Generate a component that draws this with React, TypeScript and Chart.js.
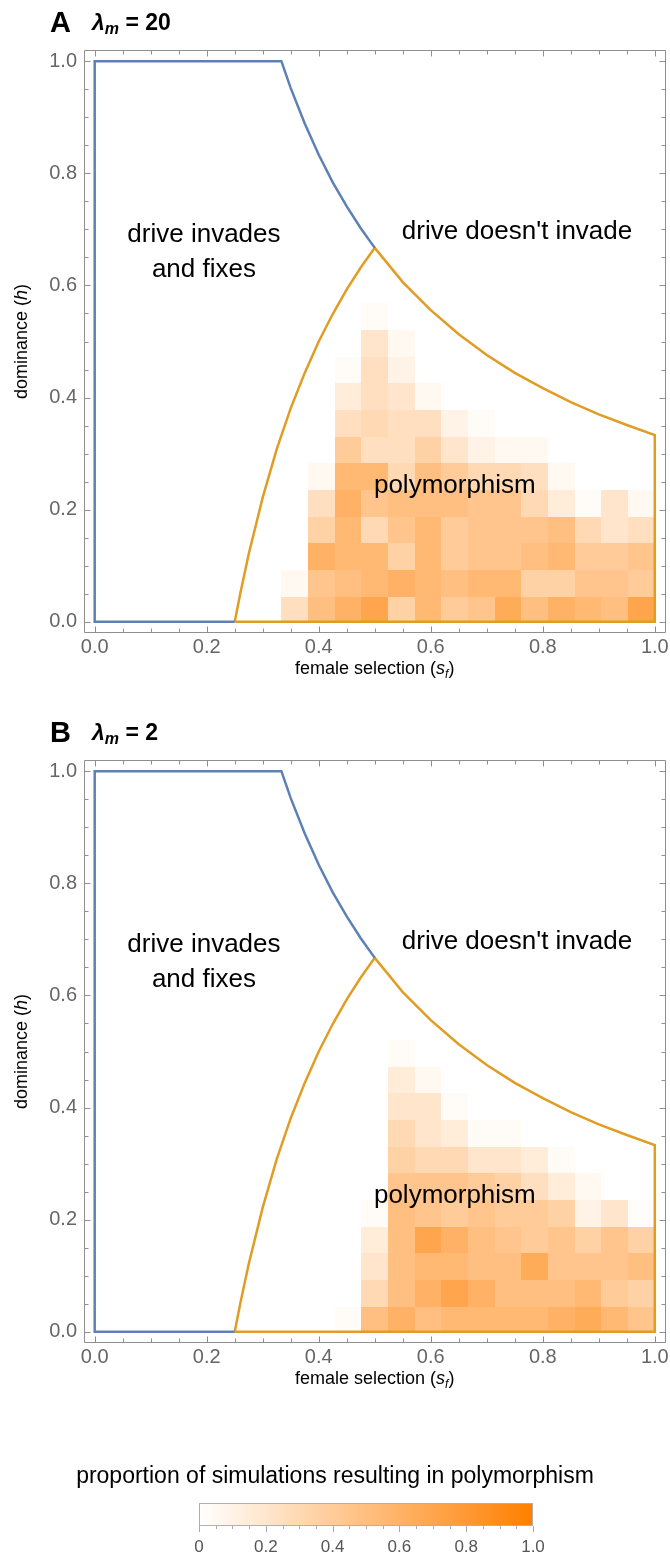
import React, { useEffect, useRef } from "react";
import { Chart, registerables } from "chart.js";
Chart.register(...registerables);

const FONT = "'Liberation Sans', Arial, Helvetica, sans-serif";

// axis ticks
const MAJOR_TICKS = [0, 0.2, 0.4, 0.6, 0.8, 1.0];
const MINOR_TICKS = [0, 0.05, 0.1, 0.15, 0.2, 0.25, 0.3, 0.35, 0.4, 0.45, 0.5, 0.55, 0.6, 0.65, 0.7, 0.75, 0.8, 0.85, 0.9, 0.95, 1.0];
const COLORBAR_TICK_LABELS = ["0", "0.2", "0.4", "0.6", "0.8", "1.0"];

// heat-map grid: 21 x 21 cells over [0,1]
const GRID_N = 21;

// proportion of simulations resulting in polymorphism, lambda_m = 20
// rows: dominance index 0.., columns: female selection index 0..20
const POLY_A: number[][] = [
  [0, 0, 0, 0, 0, 0, 0, 0.25, 0.5, 0.6, 0.7, 0.35, 0.55, 0.4, 0.45, 0.65, 0.5, 0.6, 0.55, 0.5, 0.7],
  [0, 0, 0, 0, 0, 0, 0, 0.05, 0.45, 0.5, 0.55, 0.6, 0.55, 0.5, 0.55, 0.55, 0.35, 0.35, 0.45, 0.45, 0.4],
  [0, 0, 0, 0, 0, 0, 0, 0, 0.6, 0.55, 0.55, 0.35, 0.55, 0.4, 0.45, 0.45, 0.5, 0.55, 0.4, 0.4, 0.45],
  [0, 0, 0, 0, 0, 0, 0, 0, 0.35, 0.55, 0.3, 0.45, 0.55, 0.4, 0.45, 0.45, 0.45, 0.5, 0.3, 0.2, 0.25],
  [0, 0, 0, 0, 0, 0, 0, 0, 0.25, 0.6, 0.45, 0.5, 0.5, 0.5, 0.45, 0.45, 0.3, 0.15, 0.03, 0.2, 0.05],
  [0, 0, 0, 0, 0, 0, 0, 0, 0.05, 0.55, 0.55, 0.3, 0.5, 0.4, 0.3, 0.3, 0.25, 0.05, 0, 0, 0],
  [0, 0, 0, 0, 0, 0, 0, 0, 0, 0.4, 0.25, 0.25, 0.35, 0.2, 0.1, 0.05, 0.05, 0, 0, 0, 0],
  [0, 0, 0, 0, 0, 0, 0, 0, 0, 0.25, 0.3, 0.25, 0.25, 0.1, 0.03, 0, 0, 0, 0, 0, 0],
  [0, 0, 0, 0, 0, 0, 0, 0, 0, 0.15, 0.25, 0.2, 0.05, 0, 0, 0, 0, 0, 0, 0, 0],
  [0, 0, 0, 0, 0, 0, 0, 0, 0, 0.03, 0.25, 0.1, 0, 0, 0, 0, 0, 0, 0, 0, 0],
  [0, 0, 0, 0, 0, 0, 0, 0, 0, 0, 0.2, 0.05, 0, 0, 0, 0, 0, 0, 0, 0, 0],
  [0, 0, 0, 0, 0, 0, 0, 0, 0, 0, 0.03, 0, 0, 0, 0, 0, 0, 0, 0, 0, 0],
];

// lambda_m = 2
const POLY_B: number[][] = [
  [0, 0, 0, 0, 0, 0, 0, 0, 0, 0.03, 0.5, 0.6, 0.5, 0.55, 0.55, 0.55, 0.55, 0.6, 0.65, 0.55, 0.45],
  [0, 0, 0, 0, 0, 0, 0, 0, 0, 0, 0.3, 0.5, 0.6, 0.7, 0.6, 0.5, 0.5, 0.5, 0.55, 0.4, 0.35],
  [0, 0, 0, 0, 0, 0, 0, 0, 0, 0, 0.2, 0.5, 0.55, 0.55, 0.5, 0.5, 0.65, 0.45, 0.45, 0.45, 0.5],
  [0, 0, 0, 0, 0, 0, 0, 0, 0, 0, 0.15, 0.5, 0.7, 0.6, 0.5, 0.45, 0.4, 0.45, 0.35, 0.45, 0.35],
  [0, 0, 0, 0, 0, 0, 0, 0, 0, 0, 0.03, 0.5, 0.45, 0.4, 0.45, 0.4, 0.4, 0.35, 0.1, 0.2, 0.02],
  [0, 0, 0, 0, 0, 0, 0, 0, 0, 0, 0, 0.45, 0.45, 0.45, 0.4, 0.35, 0.25, 0.15, 0.05, 0, 0],
  [0, 0, 0, 0, 0, 0, 0, 0, 0, 0, 0, 0.35, 0.3, 0.3, 0.2, 0.2, 0.15, 0.03, 0, 0, 0],
  [0, 0, 0, 0, 0, 0, 0, 0, 0, 0, 0, 0.3, 0.2, 0.15, 0.03, 0.03, 0, 0, 0, 0, 0],
  [0, 0, 0, 0, 0, 0, 0, 0, 0, 0, 0, 0.2, 0.2, 0.03, 0, 0, 0, 0, 0, 0, 0],
  [0, 0, 0, 0, 0, 0, 0, 0, 0, 0, 0, 0.15, 0.05, 0, 0, 0, 0, 0, 0, 0, 0],
  [0, 0, 0, 0, 0, 0, 0, 0, 0, 0, 0, 0.03, 0, 0, 0, 0, 0, 0, 0, 0, 0],
];

// boundary: drive invades and fixes (blue)
const FIX_S = [0.25, 0, 0, 0.3333, 0.35, 0.375, 0.4, 0.425, 0.45, 0.475, 0.5];
const FIX_H = [0, 0, 1, 1, 0.952, 0.889, 0.833, 0.784, 0.741, 0.702, 0.667];

// boundary: polymorphism region (orange)
const POLY_S = [0.25, 0.26, 0.275, 0.3, 0.325, 0.35, 0.375, 0.4, 0.425, 0.45, 0.475, 0.5, 0.55, 0.6, 0.65, 0.7, 0.75, 0.8, 0.85, 0.9, 0.95, 1.0, 1.0, 0.25];
const POLY_H = [0, 0.051, 0.121, 0.222, 0.308, 0.381, 0.444, 0.5, 0.549, 0.593, 0.632, 0.667, 0.606, 0.556, 0.513, 0.476, 0.444, 0.417, 0.392, 0.37, 0.351, 0.333, 0, 0];

const REGION_TEXT = ["drive invades", "and fixes", "drive doesn't invade", "polymorphism"];
const REGION_S = [0.195, 0.195, 0.754, 0.643];
const REGION_H = [0.69, 0.627, 0.695, 0.243];

const BLUE = "#5E81B5";
const ORANGE = "#E19C24";
const FRAME = "#8f8f8f";
const TICK_TEXT = "#666666";

function cellColor(v: number) {
  const g = Math.round(255 - 128 * v);
  const b = Math.round(255 - 255 * v);
  return `rgb(255,${g},${b})`;
}

type Seg = { t: string; f: string; dy?: number };
function drawRich(ctx: CanvasRenderingContext2D, segs: Seg[], x: number, y: number) {
  let total = 0;
  for (const s of segs) { ctx.font = s.f; total += ctx.measureText(s.t).width; }
  let cx = x - total / 2;
  ctx.textAlign = "left";
  ctx.textBaseline = "alphabetic";
  for (const s of segs) {
    ctx.font = s.f;
    ctx.fillText(s.t, cx, y + (s.dy || 0));
    cx += ctx.measureText(s.t).width;
  }
}

function heatPlugin(grid: number[][]) {
  return {
    id: "heat",
    beforeDatasetsDraw(chart: any) {
      const { ctx, scales } = chart;
      const xs = scales.x, ys = scales.y;
      const shift = -0.003;
      ctx.save();
      grid.forEach((row, j) => {
        row.forEach((v, i) => {
          if (!v) return;
          const x0 = xs.getPixelForValue(i / GRID_N);
          const x1 = xs.getPixelForValue((i + 1) / GRID_N);
          const y0 = ys.getPixelForValue(j / GRID_N + shift);
          const y1 = ys.getPixelForValue((j + 1) / GRID_N + shift);
          ctx.fillStyle = cellColor(v);
          ctx.fillRect(Math.round(x0), Math.round(y1), Math.round(x1) - Math.round(x0), Math.round(y0) - Math.round(y1));
        });
      });
      ctx.restore();
    },
  };
}

const framePlugin = {
  id: "frame",
  afterDatasetsDraw(chart: any) {
    const { ctx, chartArea: a, scales } = chart;
    const xs = scales.x, ys = scales.y;
    const L = Math.round(a.left) + 0.5, R = Math.round(a.right) - 0.5;
    const T = Math.round(a.top) + 0.5, B = Math.round(a.bottom) - 0.5;
    ctx.save();
    ctx.strokeStyle = FRAME;
    ctx.lineWidth = 1;
    ctx.beginPath();
    ctx.rect(L, T, R - L, B - T);
    MINOR_TICKS.forEach((v, i) => {
      const len = i % 4 === 0 ? 6 : 4;
      const px = Math.round(xs.getPixelForValue(v)) + 0.5;
      ctx.moveTo(px, B); ctx.lineTo(px, B - len);
      ctx.moveTo(px, T); ctx.lineTo(px, T + len);
      const py = Math.round(ys.getPixelForValue(v)) + 0.5;
      ctx.moveTo(L, py); ctx.lineTo(L + len, py);
      ctx.moveTo(R, py); ctx.lineTo(R - len, py);
    });
    ctx.stroke();
    ctx.restore();
  },
};

const textPlugin = {
  id: "texts",
  afterDatasetsDraw(chart: any) {
    const { ctx, chartArea: a, scales } = chart;
    const xs = scales.x, ys = scales.y;
    ctx.save();
    ctx.fillStyle = "#000";
    ctx.font = `26px ${FONT}`;
    ctx.textAlign = "center";
    ctx.textBaseline = "middle";
    REGION_TEXT.forEach((t, i) => {
      ctx.fillText(t, xs.getPixelForValue(REGION_S[i]), ys.getPixelForValue(REGION_H[i]));
    });
    // x title
    const n = `18px ${FONT}`, it = `italic 18px ${FONT}`, sub = `italic 12px ${FONT}`;
    drawRich(ctx, [
      { t: "female selection (", f: n },
      { t: "s", f: it },
      { t: "f", f: sub, dy: 4 },
      { t: ")", f: n },
    ], (a.left + a.right) / 2, a.bottom + 41);
    // y title
    ctx.translate(21, (a.top + a.bottom) / 2);
    ctx.rotate(-Math.PI / 2);
    drawRich(ctx, [
      { t: "dominance (", f: n },
      { t: "h", f: it },
      { t: ")", f: n },
    ], 0, 6);
    ctx.restore();
  },
};

function toPoints(s: number[], h: number[]) {
  return s.map((v, i) => ({ x: v, y: h[i] }));
}

function Panel({ top, grid }: { top: number; grid: number[][] }) {
  const ref = useRef<HTMLCanvasElement>(null);
  useEffect(() => {
    const axisCommon = (fitKey: "width" | "height", fitVal: number, pad: number) => ({
      type: "linear" as const,
      min: -0.02,
      max: 1.02,
      grid: { display: false, drawTicks: false },
      border: { display: false },
      afterBuildTicks: (s: any) => { s.ticks = MAJOR_TICKS.map((v) => ({ value: v })); },
      afterFit: (s: any) => {
        s[fitKey] = fitVal;
        s.paddingLeft = 0; s.paddingRight = 0; s.paddingTop = 0; s.paddingBottom = 0;
      },
      ticks: {
        padding: pad,
        color: TICK_TEXT,
        font: { family: FONT, size: 20 },
        autoSkip: false,
        maxRotation: 0,
        callback: (v: any) => Number(v).toFixed(1),
      },
    });
    const chart = new Chart(ref.current!, {
      type: "scatter",
      data: {
        datasets: [
          { data: toPoints(FIX_S, FIX_H), borderColor: BLUE, showLine: true, pointRadius: 0, borderWidth: 2.5, borderJoinStyle: "miter" } as any,
          { data: toPoints(POLY_S, POLY_H), borderColor: ORANGE, showLine: true, pointRadius: 0, borderWidth: 2.5, borderJoinStyle: "miter" } as any,
        ],
      },
      options: {
        responsive: false,
        animation: false,
        events: [],
        layout: { padding: { top: 50, right: 4, bottom: 27, left: 0 } },
        plugins: { legend: { display: false }, tooltip: { enabled: false }, title: { display: false } },
        scales: {
          x: axisCommon("height", 40, 2) as any,
          y: axisCommon("width", 83.5, 6.5) as any,
        },
      },
      plugins: [heatPlugin(grid), framePlugin, textPlugin],
    });
    return () => chart.destroy();
  }, [grid]);
  return (
    <canvas ref={ref} width={670} height={700} style={{ position: "absolute", left: 0, top, width: 670, height: 700 }} />
  );
}

function Heading({ top, letter, lambda }: { top: number; letter: string; lambda: string }) {
  return (
    <>
      <div style={{ position: "absolute", left: 50, top: top + 8, fontSize: 29, fontWeight: "bold", lineHeight: 1, fontFamily: FONT }}>{letter}</div>
      <div style={{ position: "absolute", left: 92, top: top + 11, fontSize: 23, fontWeight: "bold", lineHeight: 1, fontFamily: FONT, whiteSpace: "nowrap" }}>
        <span style={{ fontStyle: "italic" }}>λ</span>
        <span style={{ fontStyle: "italic", fontSize: 16, position: "relative", top: 4 }}>m</span>
        <span> = {lambda}</span>
      </div>
    </>
  );
}

const colorbarPlugin = {
  id: "colorbar",
  beforeDraw(chart: any) {
    const { ctx, chartArea: a, scales } = chart;
    const xs = scales.x;
    ctx.save();
    const g = ctx.createLinearGradient(a.left, 0, a.right, 0);
    g.addColorStop(0, cellColor(0));
    g.addColorStop(0.5, cellColor(0.5));
    g.addColorStop(1, cellColor(1));
    ctx.fillStyle = g;
    ctx.fillRect(a.left, a.top, a.right - a.left, a.bottom - a.top);
    ctx.strokeStyle = "#b0b0b0";
    ctx.lineWidth = 1;
    ctx.strokeRect(Math.round(a.left) + 0.5, Math.round(a.top) + 0.5, Math.round(a.right - a.left) - 1, Math.round(a.bottom - a.top) - 1);
    ctx.beginPath();
    MINOR_TICKS.forEach((v, i) => {
      const len = i % 4 === 0 ? 6 : 3;
      const px = Math.round(xs.getPixelForValue(v)) + 0.5;
      ctx.moveTo(px, a.bottom); ctx.lineTo(px, a.bottom + len);
    });
    ctx.strokeStyle = "#aaaaaa";
    ctx.stroke();
    ctx.fillStyle = "#000";
    ctx.font = `23px ${FONT}`;
    ctx.textAlign = "center";
    ctx.textBaseline = "alphabetic";
    ctx.fillText("proportion of simulations resulting in polymorphism", 335, 43);
    ctx.restore();
  },
};

function ColorBar({ top }: { top: number }) {
  const ref = useRef<HTMLCanvasElement>(null);
  useEffect(() => {
    const chart = new Chart(ref.current!, {
      type: "scatter",
      data: { datasets: [] },
      options: {
        responsive: false,
        animation: false,
        events: [],
        layout: { padding: { top: 63, right: 137, bottom: 1, left: 199 } },
        plugins: { legend: { display: false }, tooltip: { enabled: false } },
        scales: {
          x: {
            type: "linear",
            min: 0,
            max: 1,
            grid: { display: false, drawTicks: false },
            border: { display: false },
            afterBuildTicks: (s: any) => { s.ticks = MAJOR_TICKS.map((v) => ({ value: v })); },
            afterFit: (s: any) => { s.height = 30; s.paddingLeft = 0; s.paddingRight = 0; },
            ticks: {
              padding: 11,
              color: "#555",
              font: { family: FONT, size: 17 },
              autoSkip: false,
              maxRotation: 0,
              callback: (_v: any, i: number) => COLORBAR_TICK_LABELS[i],
            },
          },
          y: { display: false, min: 0, max: 1 },
        },
      },
      plugins: [colorbarPlugin],
    });
    return () => chart.destroy();
  }, []);
  return <canvas ref={ref} width={670} height={117} style={{ position: "absolute", left: 0, top, width: 670, height: 117 }} />;
}

export default function App() {
  return (
    <div style={{ position: "absolute", left: 0, top: 0, width: 670, height: 1557, background: "#fff", overflow: "hidden" }}>
      <Panel top={0} grid={POLY_A} />
      <Panel top={710} grid={POLY_B} />
      <ColorBar top={1440} />
      <Heading top={0} letter="A" lambda="20" />
      <Heading top={710} letter="B" lambda="2" />
    </div>
  );
}
